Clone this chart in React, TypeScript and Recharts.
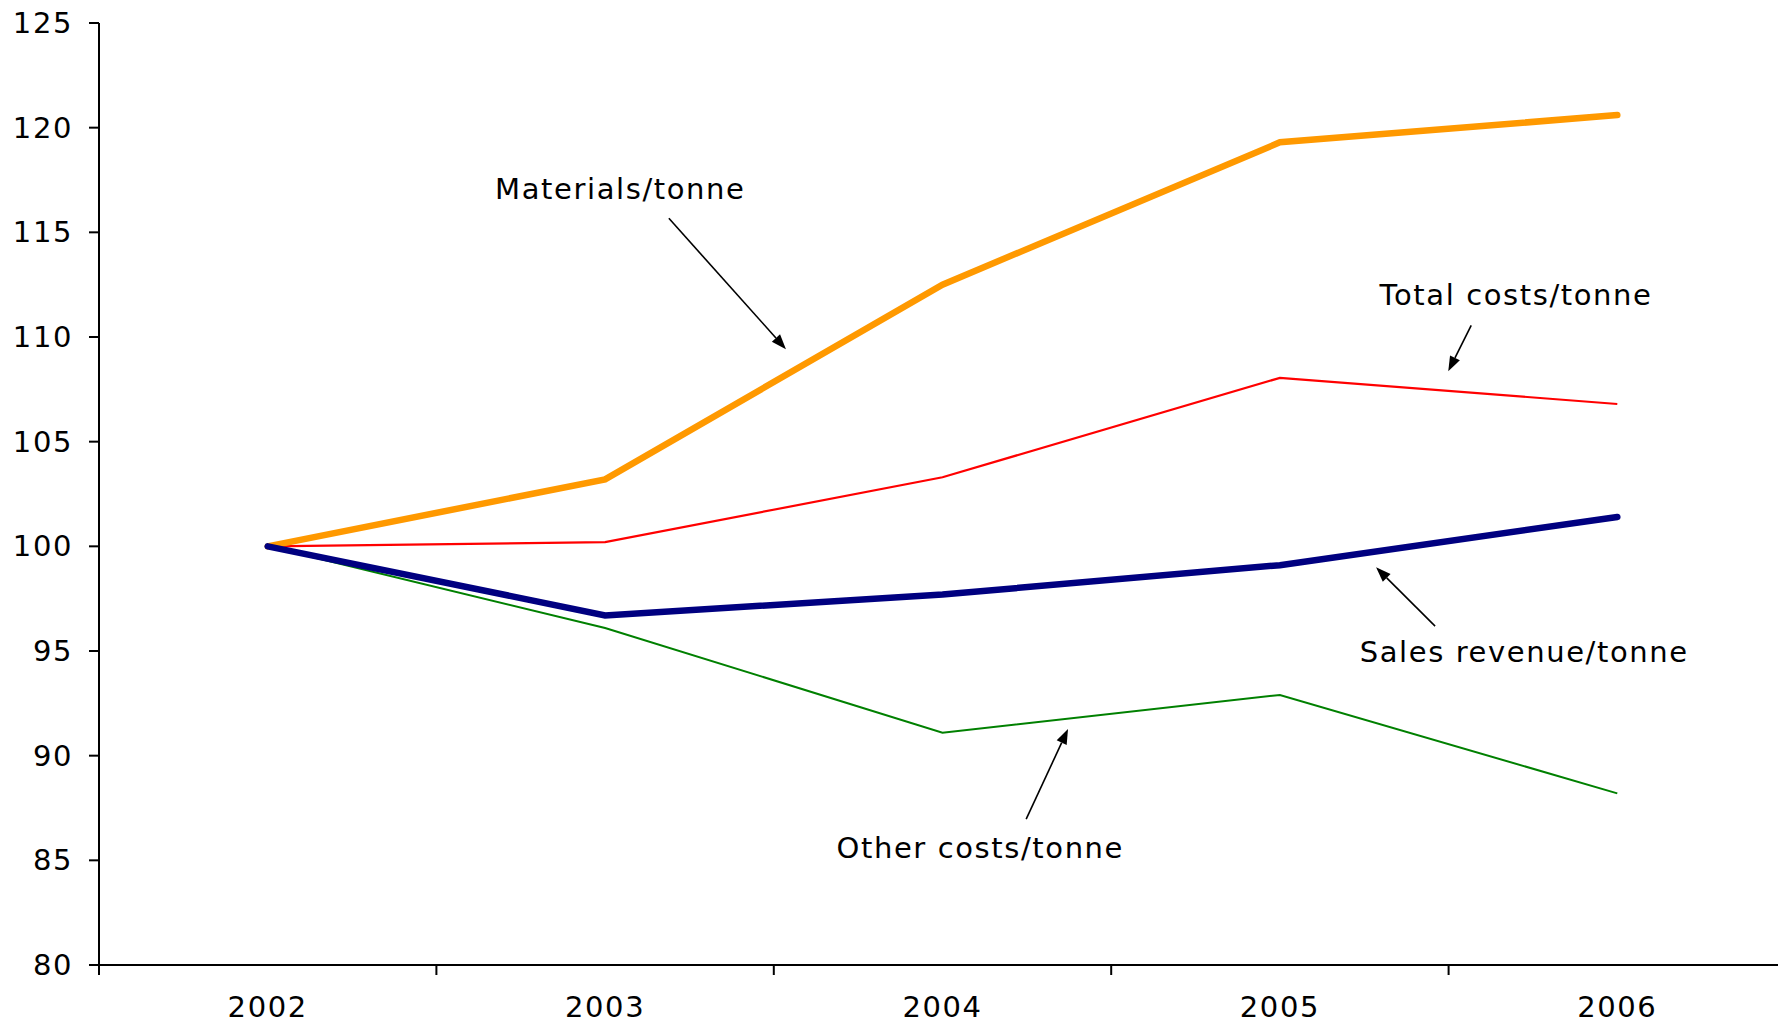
import React from "react";
import {
  LineChart,
  Line,
  XAxis,
  YAxis,
  ReferenceLine,
  ReferenceDot,
} from "recharts";

const years = ["2002", "2003", "2004", "2005", "2006"];
const materials = [100, 103.2, 112.5, 119.3, 120.6];
const totalCosts = [100, 100.2, 103.3, 108.05, 106.8];
const salesRevenue = [100, 96.7, 97.7, 99.1, 101.4];
const otherCosts = [100, 96.1, 91.1, 92.9, 88.2];
const yTicks = [80, 85, 90, 95, 100, 105, 110, 115, 120, 125];
const xTicks = [-0.5, 0, 0.5, 1, 1.5, 2, 2.5, 3, 3.5, 4, 4.5];

// annotation labels and arrows, in chart (data) units
const labels = [
  { text: "Materials/tonne", x: 1.045, y: 117.06 },
  { text: "Total costs/tonne", x: 3.7, y: 112.0 },
  { text: "Sales revenue/tonne", x: 3.724, y: 94.95 },
  { text: "Other costs/tonne", x: 2.112, y: 85.58 },
];
const arrows = [
  { from: [1.189, 115.67], to: [1.536, 109.42] },
  { from: [3.567, 110.56], to: [3.499, 108.36] },
  { from: [3.46, 96.19], to: [3.285, 99.0] },
  { from: [2.248, 86.97], to: [2.372, 91.27] },
];

const data = years.map((y, i) => ({
  x: i,
  materials: materials[i],
  total: totalCosts[i],
  sales: salesRevenue[i],
  other: otherCosts[i],
}));

const FONT = "'DejaVu Sans', Verdana, sans-serif";
const FS = 29;
const LS = 1.6;

const XTick = (props: any) => {
  const { x, y, payload } = props;
  const v = payload.value;
  if (Number.isInteger(v)) {
    return (
      <text
        x={x}
        y={y + 42}
        textAnchor="middle"
        dominantBaseline="central"
        fontSize={FS}
        letterSpacing={LS}
        fontFamily={FONT}
        fill="#000"
      >
        {years[v]}
      </text>
    );
  }
  return <line x1={x} y1={y} x2={x} y2={y + 10} stroke="#000" strokeWidth={2} />;
};

const YTick = (props: any) => {
  const { x, y, payload } = props;
  return (
    <text
      x={x}
      y={y}
      textAnchor="end"
      dominantBaseline="central"
      fontSize={FS}
      letterSpacing={LS}
      fontFamily={FONT}
      fill="#000"
    >
      {payload.value}
    </text>
  );
};

const arrowShape = (p: any) => {
  const { x1, y1, x2, y2 } = p;
  const dx = x2 - x1;
  const dy = y2 - y1;
  const len = Math.sqrt(dx * dx + dy * dy) || 1;
  const ux = dx / len;
  const uy = dy / len;
  const hl = 15;
  const hw = 5.5;
  const bx = x2 - ux * hl;
  const by = y2 - uy * hl;
  return (
    <g>
      <line x1={x1} y1={y1} x2={bx} y2={by} stroke="#000" strokeWidth={1.6} />
      <polygon
        points={`${x2},${y2} ${bx - uy * hw},${by + ux * hw} ${bx + uy * hw},${by - ux * hw}`}
        fill="#000"
      />
    </g>
  );
};

export default function App() {
  return (
    <div
      style={{
        position: "absolute",
        left: 0,
        top: 0,
        width: 1778,
        height: 1023,
        overflow: "hidden",
        background: "#fff",
      }}
    >
      <LineChart
        width={1790}
        height={1023}
        data={data}
        margin={{ top: 23, right: 4, bottom: 0, left: 0 }}
      >
        <XAxis
          dataKey="x"
          type="number"
          domain={[-0.5, 4.5]}
          ticks={xTicks}
          interval={0}
          tickSize={0}
          tickMargin={0}
          tickLine={false}
          tick={<XTick />}
          height={58}
          axisLine={{ stroke: "#000", strokeWidth: 2 }}
        />
        <YAxis
          type="number"
          domain={[80, 125]}
          ticks={yTicks}
          interval={0}
          width={99}
          tickSize={10}
          tickMargin={16}
          axisLine={{ stroke: "#000", strokeWidth: 2 }}
          tickLine={{ stroke: "#000", strokeWidth: 2 }}
          tick={<YTick />}
        />
        <Line
          dataKey="other"
          stroke="#008000"
          strokeWidth={2}
          dot={false}
          isAnimationActive={false}
        />
        <Line
          dataKey="total"
          stroke="#FF0000"
          strokeWidth={2.2}
          dot={false}
          isAnimationActive={false}
        />
        <Line
          dataKey="materials"
          stroke="#FF9900"
          strokeWidth={6.5}
          strokeLinecap="round"
          dot={false}
          isAnimationActive={false}
        />
        <Line
          dataKey="sales"
          stroke="#000080"
          strokeWidth={6.5}
          strokeLinecap="round"
          dot={false}
          isAnimationActive={false}
        />
        {arrows.map((a, i) => (
          <ReferenceLine
            key={"a" + i}
            segment={[
              { x: a.from[0], y: a.from[1] },
              { x: a.to[0], y: a.to[1] },
            ]}
            shape={arrowShape}
          />
        ))}
        {labels.map((l, i) => (
          <ReferenceDot
            key={"l" + i}
            x={l.x}
            y={l.y}
            r={0}
            shape={(p: any) => (
              <text
                x={p.cx}
                y={p.cy}
                textAnchor="middle"
                dominantBaseline="central"
                fontSize={FS}
                letterSpacing={LS}
                fontFamily={FONT}
                fill="#000"
              >
                {l.text}
              </text>
            )}
          />
        ))}
      </LineChart>
    </div>
  );
}
